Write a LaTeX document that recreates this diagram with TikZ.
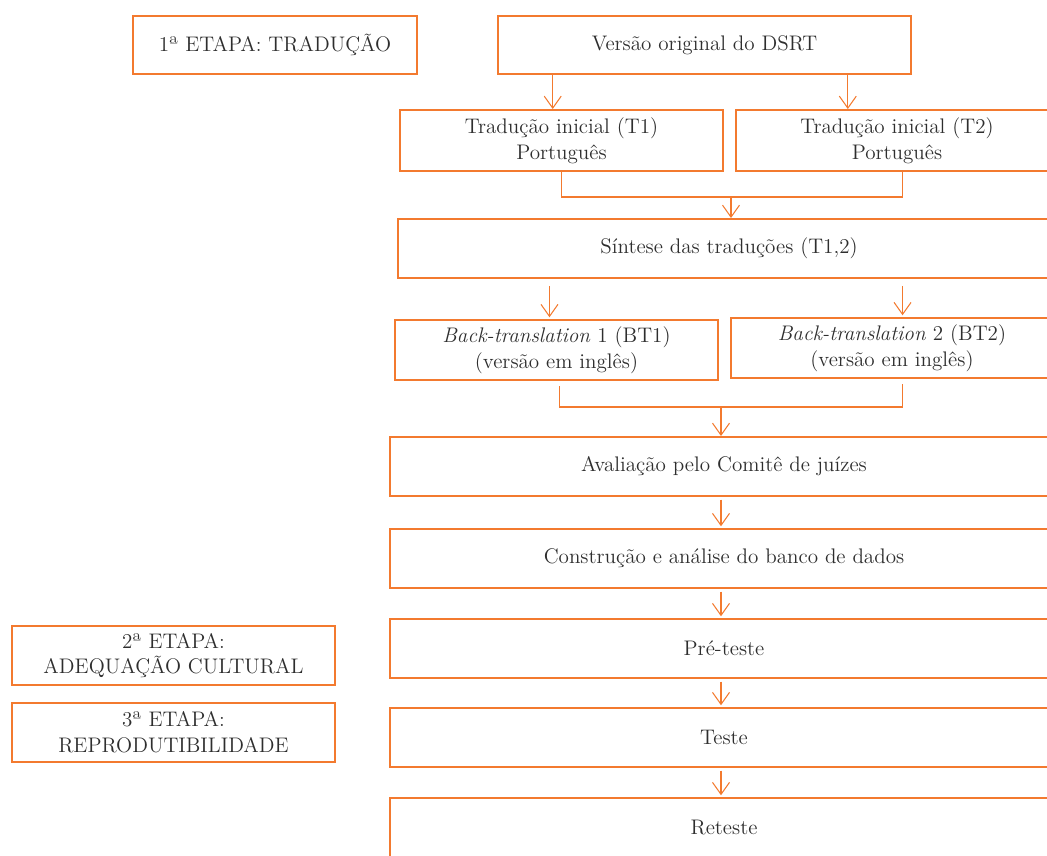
\documentclass[tikz,border=0pt]{standalone}
\usepackage{fontspec}
\usetikzlibrary{arrows.meta}
\definecolor{laranja}{HTML}{F37A2F}
\definecolor{texto}{HTML}{2E2E2E}
\newcommand{\px}{0.02cm}
\begin{document}
\begin{tikzpicture}[x=0.02cm, y=-0.02cm,
  caixa/.style={shape=rectangle, draw=laranja, line width=1.1pt, inner sep=0pt, align=center,
    text=texto, font=\fontsize{12}{14.6}\selectfont},
  seta/.style={-{Straight Barb[length=0.24cm, width=0.34cm]}, draw=laranja, line width=0.6pt},
  linha/.style={-, draw=laranja, line width=0.6pt}]
\useasboundingbox (0,0) rectangle (1047,855);
\node[caixa, minimum width=284*\px, minimum height=58*\px] (et1) at (275,45) {1ª ETAPA: TRADUÇÃO};
\node[caixa, minimum width=413*\px, minimum height=58*\px] (orig) at (704.5,45) {Versão original do DSRT};
\node[caixa, minimum width=323*\px, minimum height=61*\px] (t1) at (561.5,140.5) {Tradução inicial (T1)\\Português};
\node[caixa, minimum width=322*\px, minimum height=61*\px] (t2) at (897,140.5) {Tradução inicial (T2)\\Português};
\node[caixa, minimum width=662*\px, minimum height=59*\px] (sint) at (729,248.5) {Síntese das traduções (T1,2)};
\node[caixa, minimum width=323*\px, minimum height=60*\px] (bt1) at (556.5,350) {\textit{Back-translation} 1 (BT1)\\(versão em inglês)};
\node[caixa, minimum width=322*\px, minimum height=60*\px] (bt2) at (892,348) {\textit{Back-translation} 2 (BT2)\\(versão em inglês)};
\node[caixa, minimum width=668*\px, minimum height=59*\px] (aval) at (724,466.5) {Avaliação pelo Comitê de juízes};
\node[caixa, minimum width=668*\px, minimum height=59*\px] (cons) at (724,558.5) {Construção e análise do banco de dados};
\node[caixa, minimum width=668*\px, minimum height=59*\px] (pre) at (724,648.5) {Pré-teste};
\node[caixa, minimum width=668*\px, minimum height=59*\px] (teste) at (724,737.5) {Teste};
\node[caixa, minimum width=668*\px, minimum height=59*\px] (ret) at (724,827.5) {Reteste};
\node[caixa, minimum width=323*\px, minimum height=59*\px] (et2) at (173.5,655.5) {2ª ETAPA:\\ADEQUAÇÃO CULTURAL};
\node[caixa, minimum width=323*\px, minimum height=59*\px] (et3) at (173.5,732.5) {3ª ETAPA:\\REPRODUTIBILIDADE};
% traducoes iniciais
\draw[seta] ([xshift=-5pt]orig.south -| t1.north) -- ([xshift=-5pt]t1.north);
\draw[seta] ([xshift=-28pt]orig.south -| t2.north) -- ([xshift=-28pt]t2.north);
% juncao T1, T2
\coordinate (j1) at (731,197);
\draw[linha] (t1.south) |- (j1) -| ([xshift=3pt]t2.south);
\draw[seta] (j1) -- (j1 |- sint.north);
% back-translations
\draw[seta, shorten <=4pt, shorten >=1pt] ([xshift=-4pt]sint.south -| bt1.north) -- ([xshift=-4pt]bt1.north);
\draw[seta, shorten <=4pt, shorten >=1pt] ([xshift=6pt]sint.south -| bt2.north) -- ([xshift=6pt]bt2.north);
% juncao BT1, BT2
\coordinate (j2) at (721,407);
\draw[linha, shorten <=3pt] ([xshift=1.5pt]bt1.south) |- (j2);
\draw[linha, shorten <=3pt] ([xshift=6pt]bt2.south) |- (j2);
\draw[seta] (j2) -- (j2 |- aval.north);
% sequencia final
\draw[seta, shorten <=1.5pt, shorten >=1pt] (aval.south -| j2) -- (cons.north -| j2);
\draw[seta, shorten <=1.5pt, shorten >=1pt] (cons.south -| j2) -- (pre.north -| j2);
\draw[seta, shorten <=1.5pt, shorten >=1pt] (pre.south -| j2) -- (teste.north -| j2);
\draw[seta, shorten <=1.5pt, shorten >=1pt] (teste.south -| j2) -- (ret.north -| j2);
\end{tikzpicture}
\end{document}
